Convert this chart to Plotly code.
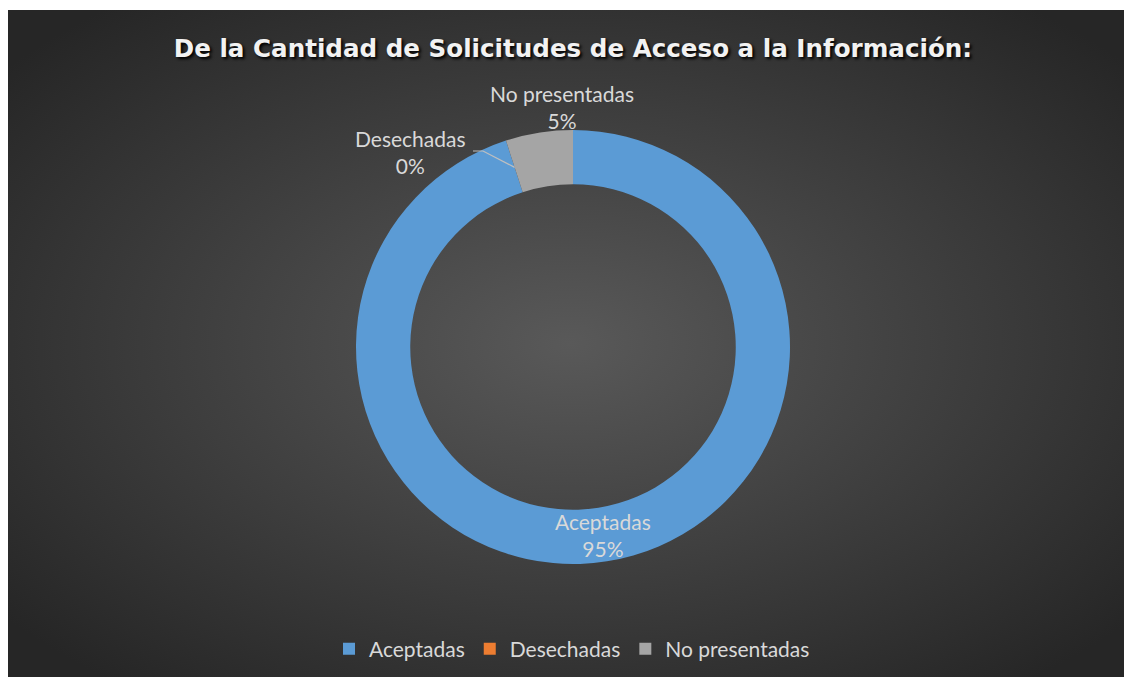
import base64
import math
import plotly.graph_objects as go

# Data
categories = ["Aceptadas", "Desechadas", "No presentadas"]
values = [95, 0, 5]
colors = ["#5B9BD5", "#ED7D31", "#A5A5A5"]
title_text = "De la Cantidad de Solicitudes de Acceso a la Información:"

# Figure geometry (page body has an 8px margin)
W, H = 1124, 669
CX, CY = 565, 339          # donut centre in px
R_OUT, HOLE = 217, 0.75
R_MID = R_OUT * (1 + HOLE) / 2


def px(x, y):
    return x / W, 1 - y / H


svg = '''<svg xmlns="http://www.w3.org/2000/svg" width="1124" height="667" viewBox="0 0 1124 667" preserveAspectRatio="none">
<defs><radialGradient id="g" cx="50%" cy="50%" r="65%">
<stop offset="0%" stop-color="#595959"/>
<stop offset="100%" stop-color="#262626"/>
</radialGradient></defs>
<rect x="0" y="0" width="1124" height="667" fill="url(#g)"/>
</svg>'''
bg_uri = "data:image/svg+xml;base64," + base64.b64encode(svg.encode()).decode()

total = sum(values)
pcts = [round(100 * v / total) for v in values]
cum = []
acc = 0
for v in values:
    cum.append((acc + v / 2) / total)  # mid fraction of each slice
    acc += v


def ring_point(frac, r):
    a = 2 * math.pi * frac
    return CX + r * math.sin(a), CY - r * math.cos(a)


fig = go.Figure()
fig.add_trace(go.Pie(
    labels=categories,
    values=values,
    marker=dict(colors=colors, line=dict(width=0)),
    hole=HOLE,
    sort=False,
    direction="clockwise",
    rotation=0,
    textinfo="none",
    domain=dict(x=[(CX - R_OUT) / W, (CX + R_OUT) / W],
                y=[1 - (CY + R_OUT) / H, 1 - (CY - R_OUT) / H]),
    showlegend=True,
    hoverinfo="label+percent",
))

label_font = dict(family="Lato", size=21, color="#d9d9d9")

# Label positions (layout only)
label_pos = {
    "Desechadas": (402, 144),
    "No presentadas": (554, 99),
}

annotations = []
for cat, pct, mid in zip(categories, pcts, cum):
    if cat in label_pos:
        x, y = label_pos[cat]
    else:
        x, y = ring_point(mid, R_MID)
    ax, ay = px(x, y)
    annotations.append(dict(text=f"{cat}<br>{pct}%", x=ax, y=ay, xref="paper", yref="paper",
                            showarrow=False, xanchor="center", yanchor="middle",
                            font=label_font))

# leader line for Desechadas
d_idx = categories.index("Desechadas")
ex, ey = ring_point(cum[d_idx], R_MID - 1)
shapes = [dict(type="path", xref="paper", yref="paper",
               path=("M {0},{1} L {2},{3} L {4},{5}".format(
                   *px(465, 143), *px(475, 143), *px(ex, ey))),
               line=dict(color="#bfbfbf", width=1.2))]

fig.update_layout(
    width=W, height=H,
    margin=dict(l=0, r=0, t=0, b=0),
    paper_bgcolor="white",
    images=[dict(source=bg_uri, xref="paper", yref="paper",
                 x=0, y=1 - 2 / H, sizex=1, sizey=667 / H,
                 xanchor="left", yanchor="top", sizing="stretch", layer="below")],
    title=dict(text=f"<b>{title_text}</b>", x=565 / W, xanchor="center",
               y=1 - 40 / H, yanchor="middle",
               font=dict(family="DejaVu Sans", size=24.6, color="#f2f2f2",
                         shadow="2px 2px 3px #000000")),
    legend=dict(orientation="h", x=564 / W, xanchor="center", y=1 - 641 / H, yanchor="middle",
                font=label_font, bgcolor="rgba(0,0,0,0)", itemwidth=30),
    annotations=annotations,
    shapes=shapes,
)

fig.write_html("out.html")
